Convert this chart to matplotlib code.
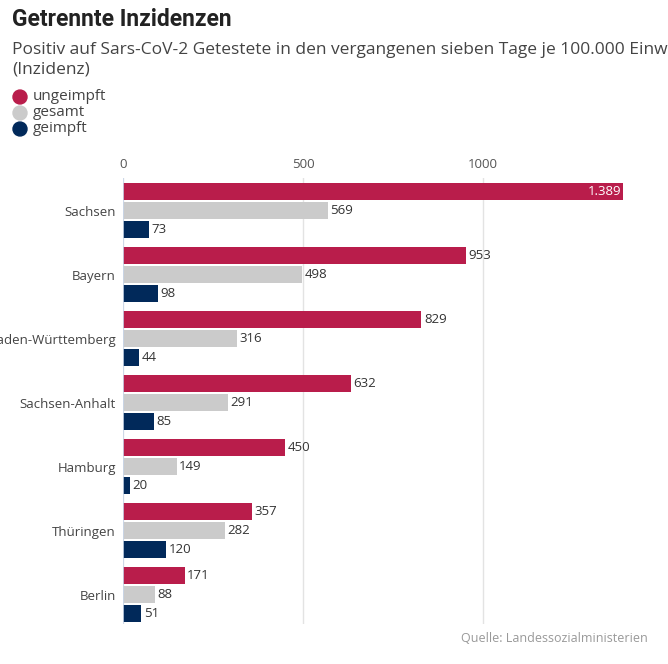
import numpy as np
import matplotlib.pyplot as plt

# data
laender = ['Sachsen', 'Bayern', 'Baden-Württemberg', 'Sachsen-Anhalt',
           'Hamburg', 'Thüringen', 'Berlin']
ungeimpft = [1389, 953, 829, 632, 450, 357, 171]
gesamt = [569, 498, 316, 291, 149, 282, 88]
geimpft = [73, 98, 44, 85, 20, 120, 51]

series = ['ungeimpft', 'gesamt', 'geimpft']
colors = ['#b91d4b', '#cbcbcb', '#01295a']
tick_vals = [0, 500, 1000]

plt.rcParams['font.family'] = ['Open Sans', 'DejaVu Sans']

fig = plt.figure(figsize=(6.68, 6.64), dpi=100)
ax = fig.add_axes([123 / 668, 1 - 624 / 664, 500 / 668, 446 / 664])

y = np.arange(len(laender))
step = 19 / 64
h = 17 / 64
values = [ungeimpft, gesamt, geimpft]
for i, (name, vals, c) in enumerate(zip(series, values, colors)):
    pos = y + (i - 1) * step
    ax.barh(pos, vals, height=h, color=c, zorder=3)
    for p, v in zip(pos, vals):
        lab = f'{v:,}'.replace(',', '.')
        if v > 1300:
            ax.text(v - 5, p, lab, ha='right', va='center', color='white',
                    fontsize=9.5, zorder=4)
        else:
            ax.text(v + 7, p, lab, ha='left', va='center', color='#333333',
                    fontsize=9.5, zorder=4)

ax.set_xlim(0, 1389)
ax.set_ylim(6.46, -0.508)
ax.set_yticks(y)
ax.set_yticklabels(laender, fontsize=9.5, color='#444444')
ax.set_xticks(tick_vals)
ax.set_xticklabels([str(t) for t in tick_vals], fontsize=9.5, color='#555555')
ax.xaxis.tick_top()
ax.tick_params(length=0, pad=5)
ax.tick_params(axis='y', pad=5)
ax.grid(axis='x', color='#e3e3e3', linewidth=1, zorder=0)
for s in ax.spines.values():
    s.set_visible(False)
ax.axvline(0, color='#c9d6ea', linewidth=1.2, zorder=5)

# header
fig.text(12 / 668, 1 - 20 / 664, 'Getrennte Inzidenzen', fontsize=16.5,
         fontweight='bold', color='#222222', family=['Roboto', 'DejaVu Sans'],
         va='center')
fig.text(12 / 668, 1 - 50 / 664,
         'Positiv auf Sars-CoV-2 Getestete in den vergangenen sieben Tage je 100.000 Einwohner',
         fontsize=12.5, color='#444444', va='center')
fig.text(12 / 668, 1 - 70 / 664, '(Inzidenz)', fontsize=12.5, color='#444444',
         va='center')

for k, (name, c) in enumerate(zip(series, colors)):
    yy = 1 - (97 + k * 16) / 664
    fig.patches.append(plt.Circle((20 / 668, yy), 7 / 668, color=c,
                                  transform=fig.transFigure, figure=fig))
    fig.text(33 / 668, yy, name, fontsize=11, color='#444444', va='center')

fig.text(648 / 668, 1 - 638 / 664, 'Quelle: Landessozialministerien',
         fontsize=9, color='#999999', ha='right', va='center')

fig.savefig('out.png', dpi=100)
